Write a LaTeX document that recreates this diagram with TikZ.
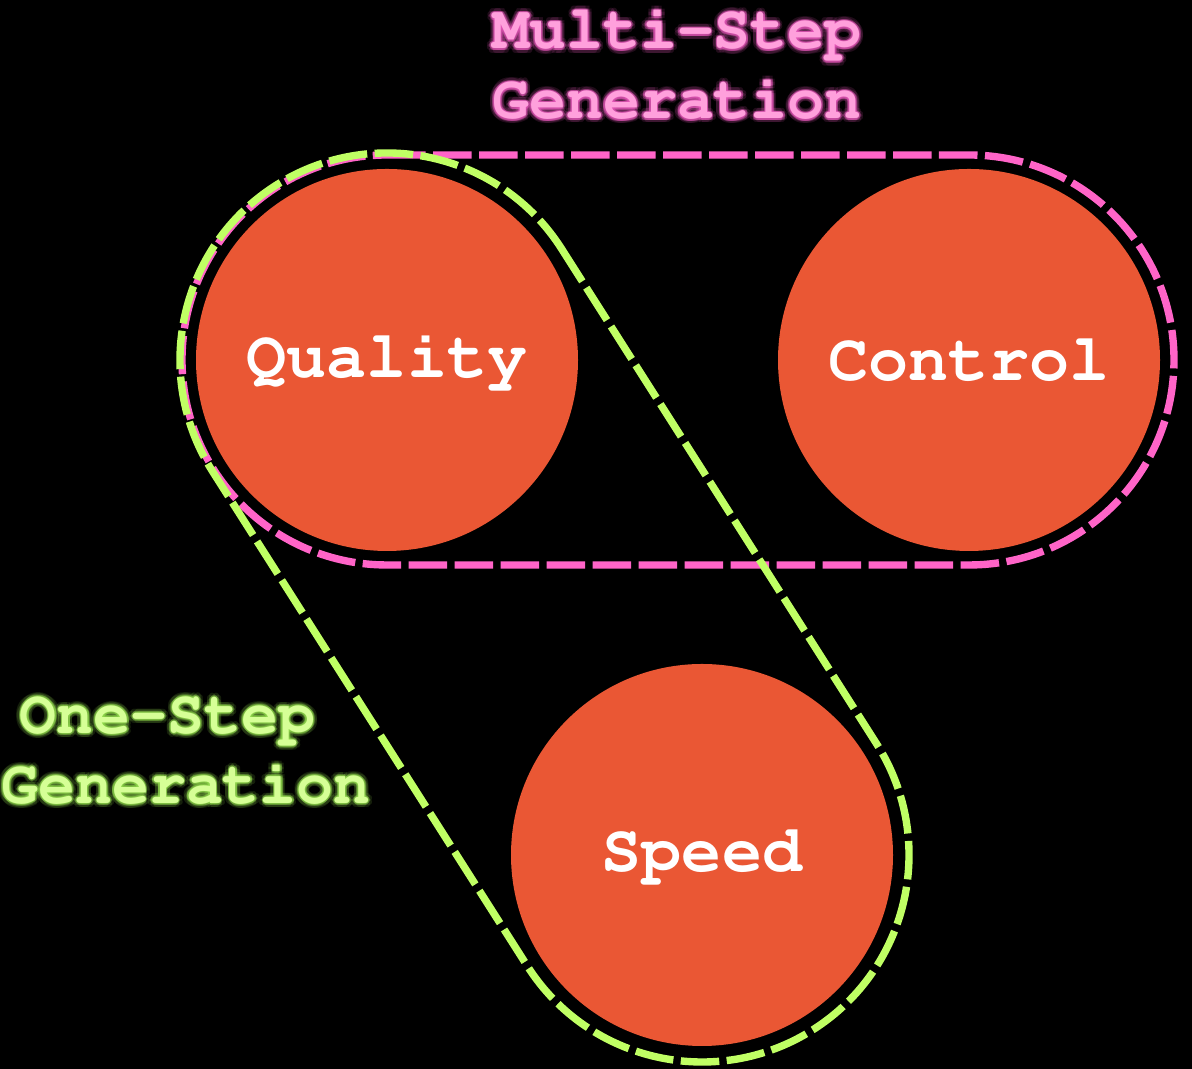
\documentclass[tikz,border=0pt]{standalone}
\usepackage[T1]{fontenc}
\usepackage{courier}
\usetikzlibrary{calc}
\definecolor{circfill}{RGB}{234,87,52}
\definecolor{pinkline}{RGB}{255,100,200}
\definecolor{pinktext}{RGB}{255,160,220}
\definecolor{pinkglow}{RGB}{235,90,190}
\definecolor{greenline}{RGB}{192,255,100}
\definecolor{greentext}{RGB}{214,255,150}
\definecolor{greenglow}{RGB}{150,225,80}
\tikzset{
  bubble/.style={circle, fill=circfill, minimum size=3.82cm, inner sep=0pt,
    text=white, font=\ttfamily\bfseries\fontsize{19}{22}\selectfont},
  hull/.style={line width=2.1pt, dash pattern=on 0.385cm off 0.075cm},
  lbl/.style={align=center, font=\ttfamily\bfseries\fontsize{17.5}{19.9}\selectfont},
}
\newcommand{\glowlabel}[5]{%
  \foreach \a in {0,45,...,315} {
    \node[lbl, text=#4, opacity=0.14] at ($(#1)+(\a+22.5:0.045)$) {#3};
    \node[lbl, text=#4, opacity=0.35] at ($(#1)+(\a:0.018)$) {#3};
  }
  \node[lbl, text=#5] (#2) at (#1) {#3};
}
\begin{document}
\begin{tikzpicture}
\useasboundingbox (0,0) rectangle (11.92,10.69);
\fill[black] (0,0) rectangle (11.92,10.69);

\node[bubble] (Q) at (3.87,7.09) {Quality};
\node[bubble] (C) at (9.69,7.09) {Control};
\node[bubble] (S) at (7.02,2.14) {Speed};

% pink stadium: Quality + Control
\draw[hull, pinkline]
  ($(Q.center)+(90:2.05)$) -- ($(C.center)+(90:2.05)$)
  arc[start angle=90, end angle=-90, radius=2.05]
  -- ($(Q.center)+(-90:2.05)$)
  arc[start angle=270, end angle=90, radius=2.05] -- cycle;

% green stadium: Quality + Speed
\draw[hull, greenline]
  ($(Q.center)+(32.47:2.07)$) -- ($(S.center)+(32.47:2.07)$)
  arc[start angle=32.47, end angle=-147.53, radius=2.07]
  -- ($(Q.center)+(-147.53:2.07)$)
  arc[start angle=212.47, end angle=32.47, radius=2.07] -- cycle;

\coordinate (mpos) at (6.77,10.05);
\coordinate (opos) at (1.86,3.18);
\glowlabel{mpos}{multi}{Multi-Step\\Generation}{pinkglow}{pinktext}
\glowlabel{opos}{one}{One-Step\hphantom{x}\\Generation}{greenglow}{greentext}
\end{tikzpicture}
\end{document}
